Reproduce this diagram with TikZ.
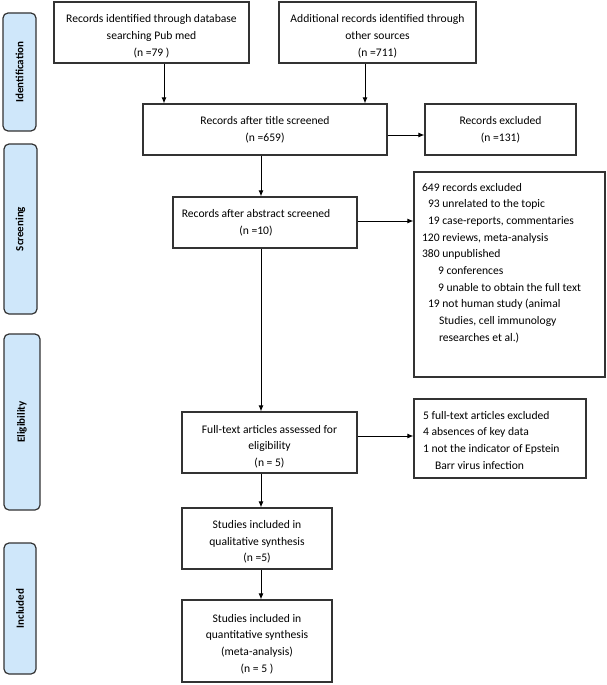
\documentclass[tikz,border=0pt]{standalone}
\usepackage{fontspec}
\setmainfont{Carlito}
\usetikzlibrary{arrows.meta}
\definecolor{phasefill}{HTML}{CFE7FA}
\definecolor{lineclr}{HTML}{333333}
\newcommand\boxfont{\fontsize{11.6}{16.7}\selectfont}
\newcommand\phasefont{\fontsize{11}{13}\selectfont\bfseries}
\newcommand\dropstrut[1]{\rule{0pt}{#1}}
\begin{document}
\begin{tikzpicture}[x=1pt,y=-1pt,
  box/.style={draw=lineclr, line width=1.2pt, inner sep=0pt, align=center, font=\boxfont, fill=white},
  listbox/.style={draw=lineclr, line width=1.2pt, inner xsep=8pt, font=\boxfont, fill=white},
  phase/.style={draw=lineclr, line width=1.2pt, fill=phasefill, rounded corners=5pt, inner sep=0pt, rotate=90, font=\phasefont},
  arr/.style={draw=black, line width=0.9pt, -{Latex[length=6pt,width=5pt]}}]
\useasboundingbox (0,0) rectangle (607,685);
\fill[white] (0,0) rectangle (607,685);

% phase labels
\node[phase, minimum width=118pt, minimum height=33pt] (pid) at (19.5,72) {Identification};
\node[phase, minimum width=170pt, minimum height=33pt] (psc) at (20.5,229) {Screening};
\node[phase, minimum width=176pt, minimum height=36pt] (pel) at (22,422) {Eligibility};
\node[phase, minimum width=131pt, minimum height=32pt] (pin) at (20,608.5) {Included};

% boxes
\node[box, minimum width=195pt, minimum height=61pt] (A) at (151.5,32.5)
  {\dropstrut{16pt}Records identified through database\\searching Pub med\\(n =79 )};
\node[box, minimum width=197pt, minimum height=61pt] (B) at (377.5,32.5)
  {\dropstrut{16pt}Additional records identified through\\other sources\\(n =711)};
\node[box, minimum width=244pt, minimum height=51pt] (C) at (265,129.5)
  {Records after title screened\\(n =659)};
\node[box, minimum width=151pt, minimum height=51pt] (Rx) at (500.5,129.5)
  {Records excluded\\(n =131)};
\node[box, minimum width=184pt, minimum height=51pt] (Abs) at (265,222.5)
  {Records after abstract screened\hspace*{18pt}\\(n =10)\hspace*{18pt}};
\node[listbox, inner ysep=11pt] (Big) at (509.5,274.5)
  {\parbox[c][183pt][t]{175pt}{\raggedright
   649 records excluded\\
   \hspace*{6pt}93 unrelated to the topic\\
   \hspace*{6pt}19 case-reports, commentaries\\
   120 reviews, meta-analysis\\
   380 unpublished\\
   \hspace*{16pt}9 conferences\\
   \hspace*{16pt}9 unable to obtain the full text\\
   \hspace*{6pt}19 not human study (animal\\
   \hspace*{17pt}Studies, cell immunology\\
   \hspace*{17pt}researches et al.)}};
\node[box, minimum width=175pt, minimum height=61pt] (FT) at (269.5,442.5)
  {\dropstrut{16pt}Full-text articles assessed for\\eligibility\\(n = 5)};
\node[listbox, inner xsep=9pt, inner ysep=12pt] (Ex) at (500,438.5)
  {\parbox[c][55pt][t]{154pt}{\raggedright
   5 full-text articles excluded\\
   4 absences of key data\\
   1 not the indicator of Epstein\\
   \hspace*{12pt}Barr virus infection}};
\node[box, minimum width=150pt, minimum height=61pt] (Q1) at (257,538.5)
  {\dropstrut{15pt}Studies included in\\qualitative synthesis\\(n =5)};
\node[box, minimum width=150pt, minimum height=82pt] (Q2) at (257,641)
  {\dropstrut{14pt}Studies included in\\quantitative synthesis\\(meta-analysis)\\(n = 5 )};

% connector columns
\coordinate (colA) at (164,0);
\coordinate (colB) at (365,0);
\coordinate (spine) at (261,0);

\draw[arr] (colA |- A.south) -- (colA |- C.north);
\draw[arr] (colB |- B.south) -- (colB |- C.north);
\draw[arr] ([yshift=-5.5pt]C.east) -- ([yshift=-5.5pt]C.east -| Rx.west);
\draw[arr] (spine |- C.south) -- (spine |- Abs.north);
\draw[arr] ([yshift=1.5pt]Abs.east) -- ([yshift=1.5pt]Abs.east -| Big.west);
\draw[arr] (spine |- Abs.south) -- (spine |- FT.north);
\draw[arr] ([yshift=6.5pt]FT.east) -- ([yshift=6.5pt]FT.east -| Ex.west);
\draw[arr] (spine |- FT.south) -- (spine |- Q1.north);
\draw[arr] (spine |- Q1.south) -- (spine |- Q2.north);
\end{tikzpicture}
\end{document}
